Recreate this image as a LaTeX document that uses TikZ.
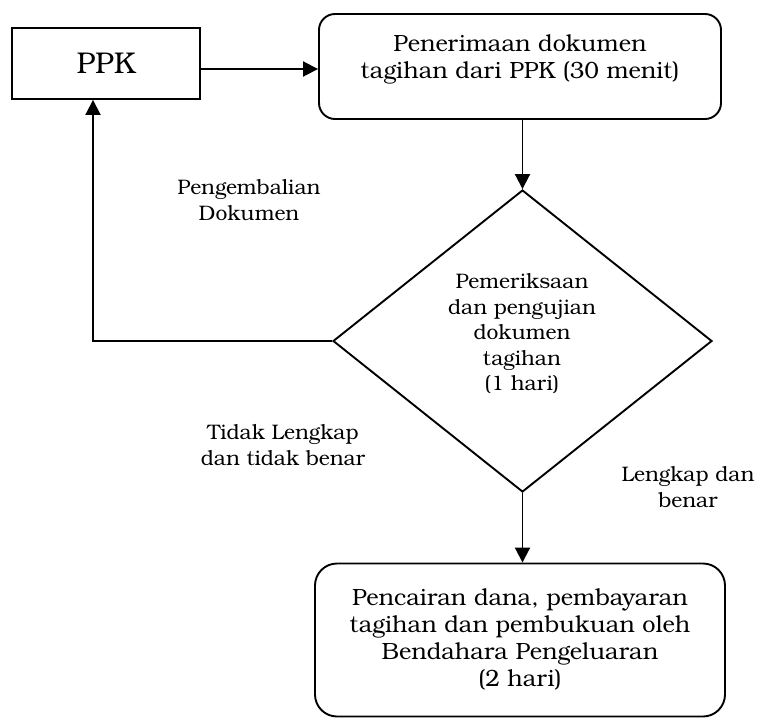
\documentclass[tikz,border=0pt]{standalone}
\usepackage{fontspec}
\setmainfont{TeX Gyre Bonum}
\usetikzlibrary{arrows.meta,shapes.geometric}
\tikzset{
  frame/.style={draw, line width=1.9pt, inner sep=0pt},
  rbox/.style={frame, rounded corners=16pt},
  arr/.style={line width=1.9pt, -{Triangle[length=15pt,width=15pt]}},
  bigtxt/.style={align=center, inner sep=0pt, font=\fontsize{23.5}{27}\selectfont},
  smalltxt/.style={align=center, inner sep=0pt, font=\fontsize{21}{25.5}\selectfont},
}
\begin{document}
\begin{tikzpicture}[x=1pt,y=-1pt]
\useasboundingbox (0,0) rectangle (764,718);
% nodes
\node[frame, minimum width=188pt, minimum height=71pt] (ppk) at (106,63.5) {};
\node[inner sep=0pt, font=\fontsize{30}{34}\selectfont] (ppkt) at (106,63) {PPK};
\node[rbox, minimum width=402pt, minimum height=105pt] (top) at (520,66.5) {};
\node[bigtxt] (topt) at (520,59) {Penerimaan dokumen\\tagihan dari PPK (30 menit)};
\node[frame, diamond, minimum width=379pt, minimum height=302pt] (d) at (522.5,341) {};
\node[smalltxt] (dt) at (522,334) {Pemeriksaan\\dan pengujian\\dokumen\\tagihan\\(1 hari)};
\node[rbox, rounded corners=22pt, minimum width=410pt, minimum height=153pt] (bot) at (520,640) {};
\node[bigtxt] (bott) at (520,639) {Pencairan dana, pembayaran\\tagihan dan pembukuan oleh\\Bendahara Pengeluaran\\(2 hari)};
% labels
\node[smalltxt] (l1) at (249,200) {Pengembalian\\Dokumen};
\node[smalltxt] (l2) at (283,445) {Tidak Lengkap\\dan tidak benar};
\node[smalltxt] (l3) at (688,487) {Lengkap dan\\benar};
% connectors
\coordinate (c1) at (93,341);
\draw[arr] (ppk.east |- 0,69) -- (top.west |- 0,69);
\draw[arr] (top.south -| d.north) -- (d.north);
\draw[arr] (d.west) -- (c1) -- (c1 |- ppk.south);
\draw[arr] (d.south) -- (bot.north -| d.south);
\end{tikzpicture}
\end{document}
